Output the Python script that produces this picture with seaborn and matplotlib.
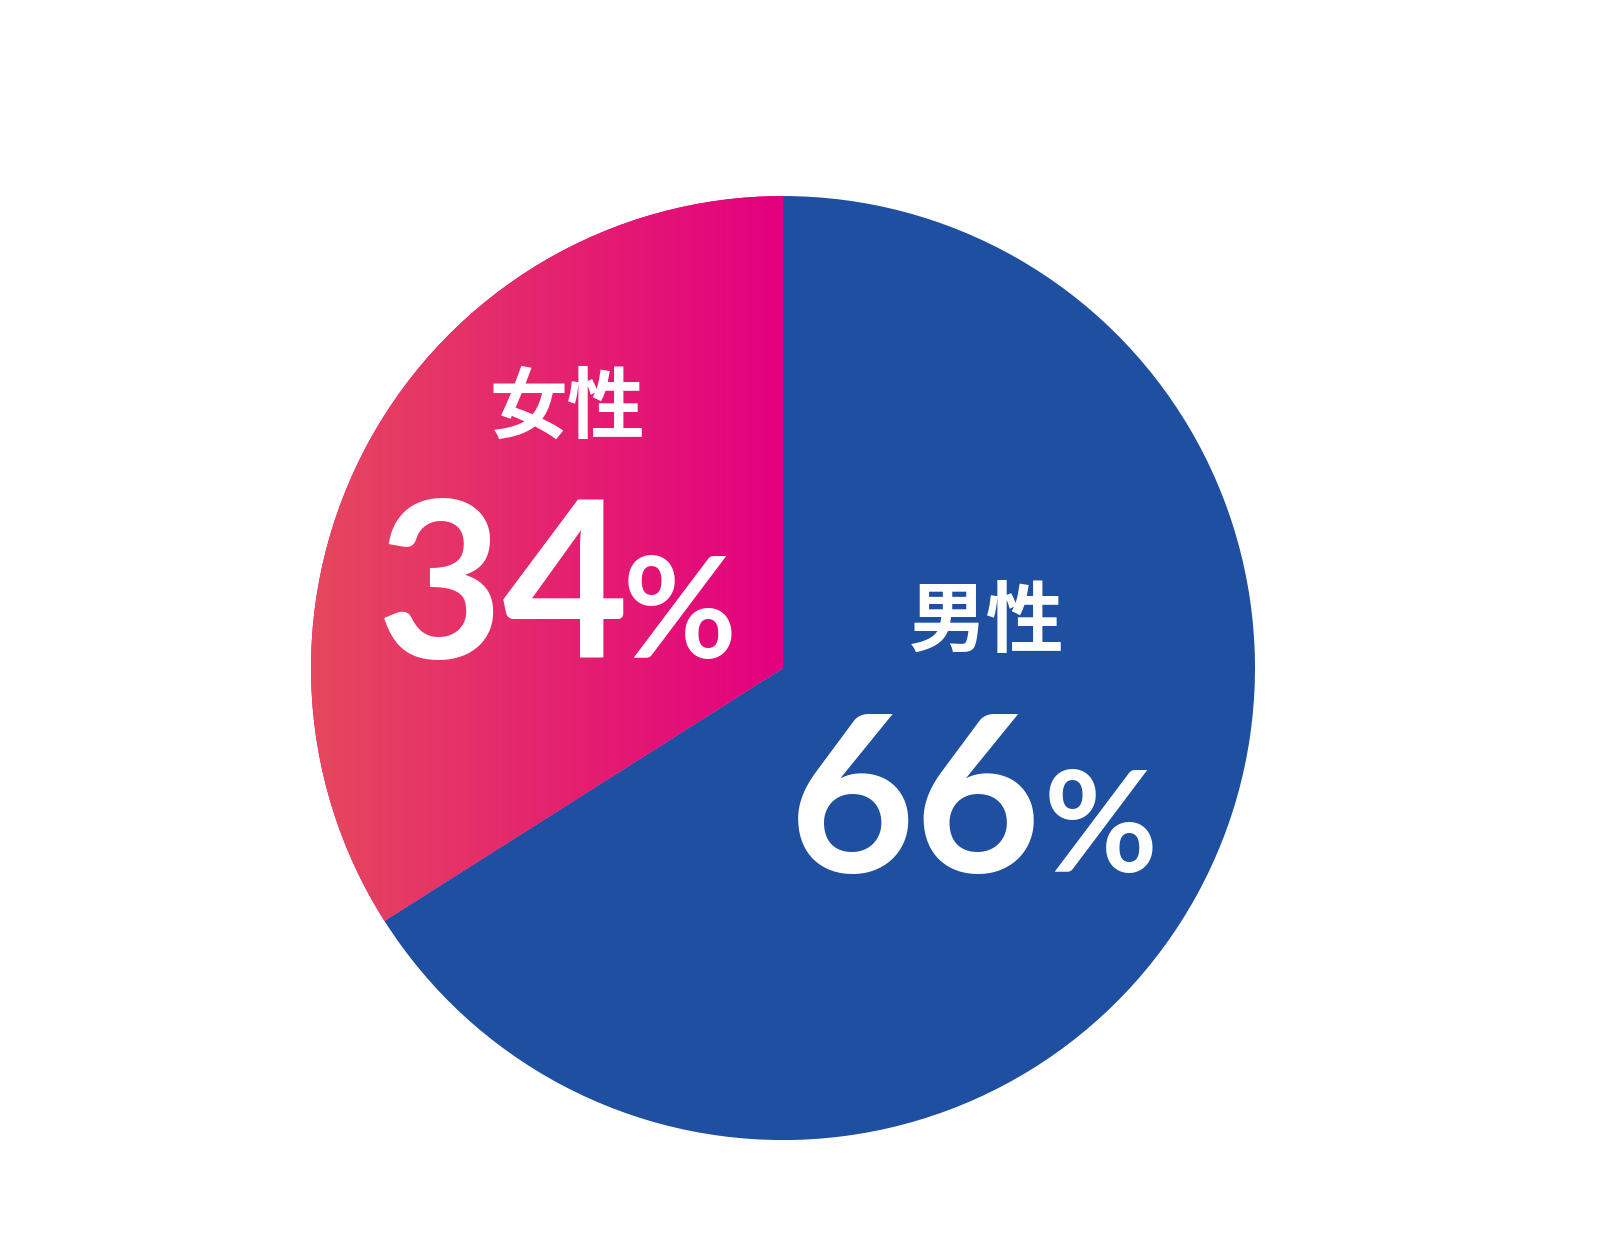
import numpy as np
import seaborn as sns
import matplotlib.pyplot as plt
from matplotlib.colors import LinearSegmentedColormap

# data
labels = ['男性', '女性']
shares = [66, 34]
slice_colors = ['#1E4FA0', '#E3007F']
gradient_colors = ['#E6485E', '#E3007F']

sns.set_theme(style='white')
plt.rcParams['font.family'] = ['Noto Sans CJK JP', 'DejaVu Sans']

fig = plt.figure(figsize=(16, 12.4), dpi=100)
ax = fig.add_axes([0.194375, 0.0806, 0.59, 0.7613])

wedges, _ = ax.pie(shares, colors=slice_colors, startangle=90, counterclock=False,
                   radius=1, wedgeprops=dict(linewidth=0))

# horizontal gradient on the women's slice, clipped to the wedge
pink = wedges[1]
bb = pink.get_path().get_extents()
cmap = LinearSegmentedColormap.from_list('pink_grad', gradient_colors)
grad = np.linspace(0, 1, 256).reshape(1, -1)
im = ax.imshow(grad, extent=[bb.x0, bb.x1, bb.y0, bb.y1], cmap=cmap,
               aspect='auto', zorder=pink.get_zorder() + 0.1)
im.set_clip_path(pink)

ax.set_xlim(-1, 1)
ax.set_ylim(-1, 1)
ax.axis('off')

# label placement: name x/y, number right edge, % left edge, baseline
label_pos = {'男性': (0.432, 0.095, 0.549, 0.552, -0.432),
             '女性': (-0.458, 0.549, -0.326, -0.339, 0.021)}
for name, val in zip(labels, shares):
    lx, ly, nx, px, ny = label_pos[name]
    ax.text(lx, ly, name, ha='center', va='center', fontsize=56,
            fontweight='bold', color='white')
    ax.text(nx, ny, str(val), ha='right', va='baseline', fontsize=157,
            family=['Lato', 'DejaVu Sans'], fontweight='bold', color='white')
    ax.text(px, ny, '%', ha='left', va='baseline', fontsize=100,
            family=['Lato', 'DejaVu Sans'], fontweight='bold', color='white')

fig.savefig('out.png', dpi=100, facecolor='white')
